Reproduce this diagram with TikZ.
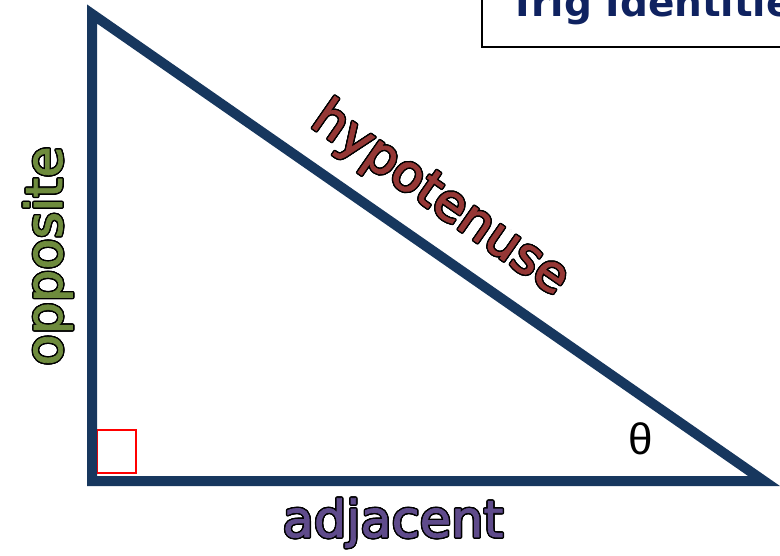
\documentclass[tikz,border=0pt]{standalone}
\usepackage{fontspec}
\usepackage[copies]{contour}
\usepackage{tikz}
\usetikzlibrary{positioning}
\newfontfamily\labelfont[FakeBold=1.5]{DejaVu Sans}
\newfontfamily\greekfont{Liberation Sans}
\newfontfamily\titlefont{DejaVu Sans}
\definecolor{triblue}{HTML}{17375E}
\definecolor{oppgreen}{HTML}{6E8B3D}
\definecolor{hypred}{HTML}{953735}
\definecolor{adjpurple}{HTML}{5F4B8B}
\definecolor{titlenavy}{HTML}{0F2260}
\contourlength{1.4pt}
\newcommand{\sidelabel}[2]{\contour{black}{\textcolor{#1}{#2}}}

\begin{document}
\begin{tikzpicture}[x=1pt, y=-1pt,
    side/.style={draw=triblue, line width=10pt, line join=miter},
    sidetext/.style={inner sep=0pt, anchor=base, font=\labelfont\fontsize{51}{51}\selectfont}]
    \useasboundingbox (0,0) rectangle (780,556);
    \clip (0,0) rectangle (780,556);

    % Title box
    \draw[line width=2pt] (482,-10) rectangle (800,47);
    \node[inner sep=0pt, anchor=base west, text=titlenavy,
          font=\titlefont\bfseries\fontsize{39}{39}\selectfont] (title) at (509,17) {Trig Identities};

    % Corners
    \coordinate (top) at (92,14);
    \coordinate (right) at (764,481);
    \coordinate (corner) at (92,481);

    % Right angle mark
    \draw[red, line width=1.5pt] (97,430) rectangle (136,473);

    % Sides
    \draw[side] (top) -- (corner) -- (right) -- cycle;

    % Labels
    \node[sidetext, rotate=90] (opp) at (62,256) {\sidelabel{oppgreen}{opposite}};
    \node[sidetext, rotate=-34.8] (hyp) at (432,211) {\sidelabel{hypred}{hypotenuse}};
    \node[sidetext] (adj) at (393,537) {\sidelabel{adjpurple}{adjacent}};
    \node[inner sep=0pt, font=\greekfont\fontsize{44}{44}\selectfont] (theta) at (641,439) {θ};
\end{tikzpicture}
\end{document}
